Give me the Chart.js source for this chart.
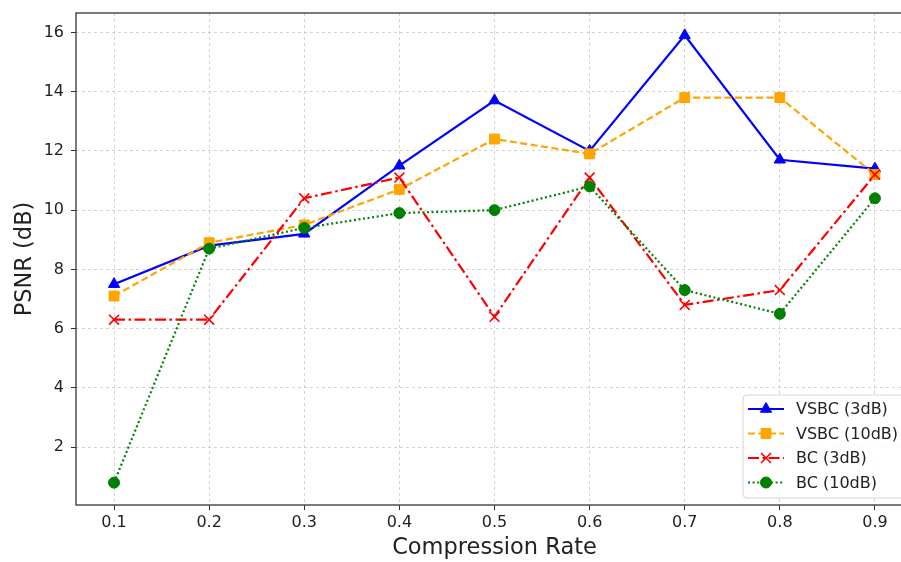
<!DOCTYPE html>
<html>
<head>
<meta charset="utf-8">
<script src="https://cdn.jsdelivr.net/npm/chart.js@4"></script>
<style>
  html, body { margin: 0; padding: 0; background: #fff; overflow: hidden; }
  #wrap { width: 930px; height: 562px; }
</style>
</head>
<body>
<div id="wrap"><canvas id="psnrChart" width="930" height="562"></canvas></div>
<script>
// valeurs
const rates = [0.1, 0.2, 0.3, 0.4, 0.5, 0.6, 0.7, 0.8, 0.9];
const vsbc3 = [7.5, 8.8, 9.2, 11.5, 13.7, 12.0, 15.9, 11.7, 11.4];
const vsbc10 = [7.1, 8.9, 9.5, 10.7, 12.4, 11.9, 13.8, 13.8, 11.2];
const bc3 = [6.3, 6.3, 10.4, 11.1, 6.4, 11.1, 6.8, 7.3, 11.2];
const bc10 = [0.8, 8.7, 9.4, 9.9, 10.0, 10.8, 7.3, 6.5, 10.4];
const xTicks = [0.1, 0.2, 0.3, 0.4, 0.5, 0.6, 0.7, 0.8, 0.9];
const yTicks = [2, 4, 6, 8, 10, 12, 14, 16];

const FONT = "'DejaVu Sans', sans-serif";

function toPoints(values) {
  return rates.map((r, i) => ({ x: r, y: values[i] }));
}

const series = [
  { label: "VSBC (3dB)", data: vsbc3, color: "#0000ff", dash: [], style: "triangle", radius: 6.5, order: 4 },
  { label: "VSBC (10dB)", data: vsbc10, color: "#ffa500", dash: [7, 3.5], style: "rect", radius: 7, order: 3 },
  { label: "BC (3dB)", data: bc3, color: "#ff0000", dash: [11, 3.5, 2.5, 3.5], style: "crossRot", radius: 7, order: 2 },
  { label: "BC (10dB)", data: bc10, color: "#008000", dash: [2, 2.6], style: "circle", radius: 5.5, order: 1 }
];

// cadre + légende façon matplotlib
const framePlugin = {
  id: "frame",
  afterDraw(chart) {
    const ctx = chart.ctx;
    const a = chart.chartArea;
    ctx.save();
    ctx.strokeStyle = "#333";
    ctx.lineWidth = 1.3;
    ctx.setLineDash([]);
    ctx.strokeRect(a.left, a.top, a.right - a.left, a.bottom - a.top);

    // légende en bas à droite
    const bx = 743, by = 395, bw = a.right - 7 - bx, bh = a.bottom - 7 - by;
    ctx.beginPath();
    ctx.roundRect(bx, by, bw, bh, 4);
    ctx.fillStyle = "rgba(255,255,255,0.85)";
    ctx.fill();
    ctx.strokeStyle = "#d4d4d4";
    ctx.lineWidth = 1;
    ctx.stroke();

    ctx.font = "16px " + FONT;
    ctx.textBaseline = "middle";
    series.forEach((s, i) => {
      const y = 409 + i * 24.5;
      ctx.strokeStyle = s.color;
      ctx.lineWidth = 2.2;
      ctx.setLineDash(s.dash);
      ctx.beginPath();
      ctx.moveTo(748, y);
      ctx.lineTo(784, y);
      ctx.stroke();
      ctx.setLineDash([]);
      ctx.fillStyle = s.color;
      ctx.strokeStyle = s.color;
      ctx.lineWidth = s.style === "crossRot" ? 1.6 : 1;
      Chart.helpers.drawPoint(ctx, { pointStyle: s.style, radius: s.radius, rotation: 0, borderWidth: 1 }, 766, y);
      ctx.fillStyle = "#222";
      ctx.fillText(s.label, 796, y + 1);
    });
    ctx.restore();
  }
};

const ctx = document.getElementById("psnrChart").getContext("2d");
new Chart(ctx, {
  type: "line",
  data: {
    datasets: series.map(s => ({
      label: s.label,
      data: toPoints(s.data),
      borderColor: s.color,
      backgroundColor: s.color,
      borderWidth: 2.2,
      borderDash: s.dash,
      pointStyle: s.style,
      pointRadius: s.radius,
      pointBorderWidth: s.style === "crossRot" ? 1.6 : 1,
      pointBackgroundColor: s.color,
      pointBorderColor: s.color,
      fill: false,
      tension: 0,
      order: s.order
    }))
  },
  options: {
    responsive: false,
    animation: false,
    layout: { padding: { top: 13, right: 17, left: 0, bottom: 0 } },
    plugins: {
      legend: { display: false },
      tooltip: { enabled: false }
    },
    scales: {
      x: {
        type: "linear",
        min: 0.06,
        max: 0.94,
        afterFit: scale => { scale.height = 57; scale.paddingLeft = 0; scale.paddingRight = 0; },
        afterBuildTicks: scale => { scale.ticks = xTicks.map(v => ({ value: v })); },
        border: { display: false, dash: [3, 3] },
        grid: { color: "#c8c8c8", lineWidth: 0.8, tickColor: "#333", tickLength: 5, tickBorderDash: [], tickWidth: 1 },
        ticks: {
          color: "#222",
          padding: 3,
          font: { family: FONT, size: 16 },
          callback: v => v.toFixed(1)
        },
        title: {
          display: true,
          text: "Compression Rate",
          color: "#222",
          font: { family: FONT, size: 22.5 },
          padding: { top: 0, bottom: 0 }
        }
      },
      y: {
        type: "linear",
        min: 0.045,
        max: 16.655,
        afterFit: scale => { scale.width = 76; scale.paddingTop = 0; scale.paddingBottom = 0; },
        afterBuildTicks: scale => { scale.ticks = yTicks.map(v => ({ value: v })); },
        border: { display: false, dash: [3, 3] },
        grid: { color: "#c8c8c8", lineWidth: 0.8, tickColor: "#333", tickLength: 5, tickBorderDash: [], tickWidth: 1 },
        ticks: {
          color: "#222",
          padding: 7,
          font: { family: FONT, size: 16 }
        },
        title: {
          display: true,
          text: "PSNR (dB)",
          color: "#222",
          font: { family: FONT, size: 22.5 },
          padding: { top: 12, bottom: 0 }
        }
      }
    }
  },
  plugins: [framePlugin]
});
</script>
</body>
</html>
